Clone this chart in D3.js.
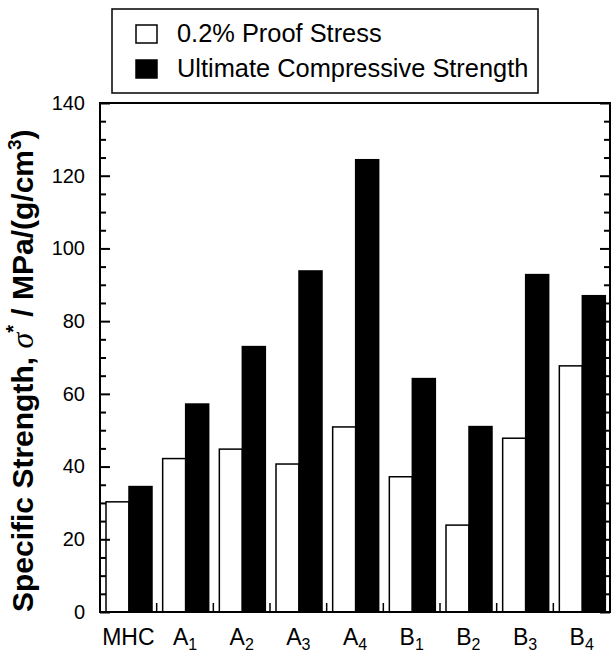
<!DOCTYPE html>
<html>
<head>
<meta charset="utf-8">
<script src="https://cdn.jsdelivr.net/npm/d3@7"></script>
<style>
  body { margin: 0; background: #fff; }
  text { font-family: "Liberation Sans", Arial, Helvetica, sans-serif; fill: #000; }
</style>
</head>
<body>
<svg id="chart" width="611" height="652"></svg>
<script>
// Categories (alloy / sample names) with subscript parts
const categories = ["MHC", "A1", "A2", "A3", "A4", "B1", "B2", "B3", "B4"];
const labelBase = ["MHC", "A", "A", "A", "A", "B", "B", "B", "B"];
const labelSub = ["", "1", "2", "3", "4", "1", "2", "3", "4"];

// Series
const seriesNames = ["0.2% Proof Stress", "Ultimate Compressive Strength"];
const seriesFill = ["#ffffff", "#000000"];
const proofStress = [30.3, 42.2, 44.8, 40.7, 50.9, 37.2, 23.9, 47.8, 67.7];
const ultimateStrength = [34.5, 57.2, 73.0, 93.8, 124.4, 64.2, 51.0, 92.8, 87.0];

// Axis ticks
const yMajorTicks = [0, 20, 40, 60, 80, 100, 120, 140];
const yMinorTicks = d3.range(0, 141, 5).filter(v => v % 20 !== 0);

const svg = d3.select("#chart");
const plotL = 100, plotR = 610, plotT = 103, plotB = 612;

const x0 = d3.scaleBand().domain(categories).range([plotL, plotR]).padding(0);
const x1 = d3.scaleBand().domain(seriesNames).range([6, 52]).padding(0);
const y = d3.scaleLinear().domain([0, 140]).range([plotB, plotT]);

const seriesValues = [proofStress, ultimateStrength];

// Bars
const groups = svg.append("g").selectAll("g")
  .data(categories)
  .join("g")
  .attr("transform", d => `translate(${x0(d)},0)`);

groups.selectAll("rect")
  .data((d, i) => seriesNames.map((s, j) => ({ s, j, v: seriesValues[j][i] })))
  .join("rect")
  .attr("x", d => x1(d.s))
  .attr("y", d => y(d.v))
  .attr("width", x1.bandwidth())
  .attr("height", d => y(0) - y(d.v))
  .attr("fill", d => seriesFill[d.j])
  .attr("stroke", "#000")
  .attr("stroke-width", 1.5);

// Y axis, left: inward ticks with labels
const axL = svg.append("g").attr("transform", `translate(${plotL},0)`)
  .call(d3.axisLeft(y).tickValues(yMajorTicks).tickSizeInner(-10).tickSizeOuter(0).tickPadding(15));
axL.select(".domain").remove();
axL.selectAll(".tick line").attr("stroke-width", 2);
axL.selectAll(".tick text").style("font-size", "20px").attr("font-family", null);

const axLm = svg.append("g").attr("transform", `translate(${plotL},0)`)
  .call(d3.axisLeft(y).tickValues(yMinorTicks).tickSizeInner(-6).tickSizeOuter(0).tickFormat(""));
axLm.select(".domain").remove();
axLm.selectAll(".tick line").attr("stroke-width", 2);

// Y axis, right: inward ticks without labels
const axR = svg.append("g").attr("transform", `translate(${plotR},0)`)
  .call(d3.axisRight(y).tickValues(yMajorTicks).tickSizeInner(-10).tickSizeOuter(0).tickFormat(""));
axR.select(".domain").remove();
axR.selectAll(".tick line").attr("stroke-width", 2);

const axRm = svg.append("g").attr("transform", `translate(${plotR},0)`)
  .call(d3.axisRight(y).tickValues(yMinorTicks).tickSizeInner(-6).tickSizeOuter(0).tickFormat(""));
axRm.select(".domain").remove();
axRm.selectAll(".tick line").attr("stroke-width", 2);

// X axis: small separator ticks between groups
const sepX = categories.slice(1).map(c => x0(c));
svg.append("g").selectAll("line")
  .data(sepX)
  .join("line")
  .attr("x1", d => d).attr("x2", d => d)
  .attr("y1", plotB).attr("y2", plotB - 9)
  .attr("stroke", "#000").attr("stroke-width", 1.5);

// Category labels with subscripts
const xl = svg.append("g").selectAll("text")
  .data(categories)
  .join("text")
  .attr("x", d => x0(d) + x0.bandwidth() / 2)
  .attr("y", 645)
  .attr("text-anchor", "middle")
  .style("font-size", "23px");
xl.append("tspan").text((d, i) => labelBase[i]);
xl.append("tspan")
  .attr("dy", 5)
  .style("font-size", "16px")
  .text((d, i) => labelSub[i]);

// Plot frame
svg.append("rect")
  .attr("x", plotL).attr("y", plotT)
  .attr("width", plotR - plotL).attr("height", plotB - plotT)
  .attr("fill", "none").attr("stroke", "#000").attr("stroke-width", 2);

// Y axis title
const yt = svg.append("text")
  .attr("transform", "rotate(-90)")
  .attr("x", -612)
  .attr("y", 33)
  .attr("text-anchor", "start")
  .style("font-size", "30px")
  .style("font-weight", "bold");
yt.append("tspan").text("Specific Strength, ");
yt.append("tspan").style("font-family", "'Liberation Serif', 'Times New Roman', serif")
  .style("font-style", "italic").style("font-weight", "normal").style("font-size", "32px").text("σ");
yt.append("tspan").attr("dy", -13).style("font-size", "20px").text("*");
yt.append("tspan").attr("dy", 13).text(" / MPa/(g/cm");
yt.append("tspan").attr("dy", -12).style("font-size", "19px").text("3");
yt.append("tspan").attr("dy", 12).text(")");

// Legend
const lg = svg.append("g");
lg.append("rect")
  .attr("x", 112).attr("y", 9).attr("width", 426).attr("height", 84)
  .attr("fill", "#fff").attr("stroke", "#000").attr("stroke-width", 1.5);
const items = lg.selectAll("g.item")
  .data(seriesNames)
  .join("g")
  .attr("class", "item")
  .attr("transform", (d, i) => `translate(0,${i * 35})`);
items.append("rect")
  .attr("x", 136).attr("y", 25).attr("width", 21).attr("height", 18)
  .attr("fill", (d, i) => seriesFill[i])
  .attr("stroke", "#000").attr("stroke-width", 1.5);
items.append("text")
  .attr("x", 177).attr("y", 42)
  .style("font-size", "25.4px")
  .text(d => d);
</script>
</body>
</html>
